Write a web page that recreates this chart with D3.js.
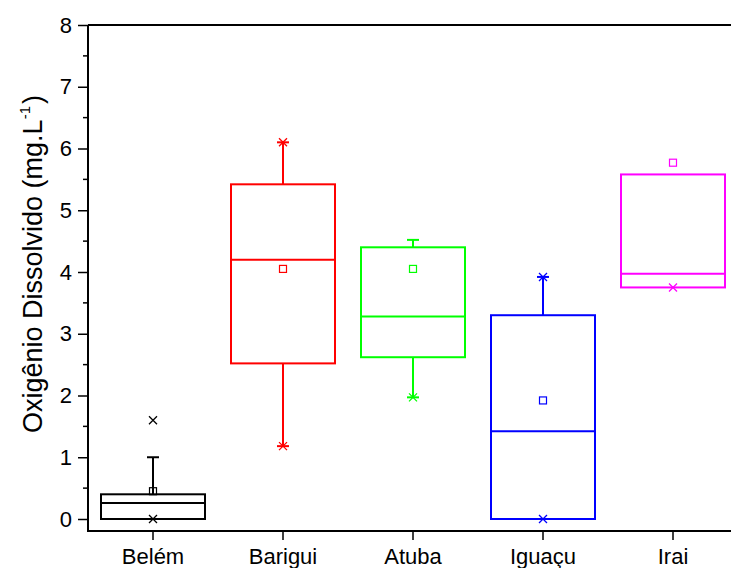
<!DOCTYPE html>
<html>
<head>
<meta charset="utf-8">
<script src="https://cdn.jsdelivr.net/npm/d3@7"></script>
<style>
  html, body { margin: 0; padding: 0; background: #fff; }
  svg { display: block; font-family: "Liberation Sans", Arial, sans-serif; }
</style>
</head>
<body>
<svg id="chart" width="731" height="568"></svg>
<script>
// Dissolved oxygen per river (mg/L)
const categories = ["Belém", "Barigui", "Atuba", "Iguaçu", "Irai"];
const colors     = ["#000000", "#ff0000", "#00ff00", "#0000ff", "#ff00ff"];
const q1         = [0.00, 2.52, 2.62, 0.00, 3.75];
const medians    = [0.26, 4.20, 3.28, 1.42, 3.97];
const q3         = [0.40, 5.42, 4.40, 3.30, 5.58];
const whiskerLow = [0.00, 1.18, 1.97, 0.00, 3.75];
const whiskerHigh= [1.00, 6.10, 4.52, 3.92, 5.58];
const means      = [0.45, 4.05, 4.05, 1.92, 5.77];
const minMarks   = [0.00, 1.18, 1.97, 0.00, 3.75];
const maxMarks   = [1.60, 6.10, null, 3.92, null];
const yTicks     = [0, 1, 2, 3, 4, 5, 6, 7, 8];

(function draw() {
  const svg = d3.select("#chart");
  const plotLeft = 88, plotTop = 25, bottomAxisY = 531;

  const x = d3.scaleBand().domain(categories).range([plotLeft, plotLeft + 130 * categories.length]).padding(0);
  const y = d3.scaleLinear().domain([0, 8]).range([519, plotTop]);
  const boxW = x.bandwidth() * 0.8;
  const cx = c => x(c) + x.bandwidth() / 2;

  // Y axis ticks and labels
  const yAxis = d3.axisLeft(y).tickValues(yTicks).tickSize(10).tickPadding(6).tickFormat(d3.format("d"));
  const gy = svg.append("g").attr("transform", `translate(${plotLeft},0)`).call(yAxis);
  gy.select(".domain").remove();
  gy.selectAll(".tick line").attr("stroke", "#000").attr("stroke-width", 1.5);
  gy.selectAll(".tick text").attr("font-size", 22).attr("fill", "#000");

  // minor y ticks
  const minor = d3.range(0.5, 8, 1);
  svg.append("g").selectAll("line").data(minor).join("line")
    .attr("x1", plotLeft - 5).attr("x2", plotLeft)
    .attr("y1", d => y(d)).attr("y2", d => y(d))
    .attr("stroke", "#000").attr("stroke-width", 1.5);

  // frame lines
  svg.append("line").attr("x1", plotLeft).attr("x2", plotLeft).attr("y1", plotTop).attr("y2", bottomAxisY)
    .attr("stroke", "#000").attr("stroke-width", 2);
  svg.append("line").attr("x1", plotLeft - 1).attr("x2", 731).attr("y1", bottomAxisY).attr("y2", bottomAxisY)
    .attr("stroke", "#000").attr("stroke-width", 2);
  svg.append("line").attr("x1", plotLeft).attr("x2", 731).attr("y1", plotTop).attr("y2", plotTop)
    .attr("stroke", "#000").attr("stroke-width", 2);

  // X axis
  const xAxis = d3.axisBottom(x).tickSize(9).tickPadding(8);
  const gx = svg.append("g").attr("transform", `translate(0,${bottomAxisY})`).call(xAxis);
  gx.select(".domain").remove();
  gx.selectAll(".tick line").attr("stroke", "#000").attr("stroke-width", 1.5);
  gx.selectAll(".tick text").attr("font-size", 22).attr("fill", "#000");

  // Y title
  const title = svg.append("text")
    .attr("transform", `translate(42,264) rotate(-90)`)
    .attr("text-anchor", "middle").attr("font-size", 27).attr("fill", "#000");
  title.append("tspan").text("Oxigênio Dissolvido (mg.L");
  title.append("tspan").attr("font-size", 15).attr("dy", -12).text("-1");
  title.append("tspan").attr("dy", 12).attr("dx", 2).text(")");

  // Boxes
  const rows = categories.map((c, i) => ({
    c, color: colors[i], q1: q1[i], med: medians[i], q3: q3[i],
    lo: whiskerLow[i], hi: whiskerHigh[i], mean: means[i],
    mn: minMarks[i], mx: maxMarks[i]
  }));

  const g = svg.append("g").attr("fill", "none").attr("stroke-width", 2);
  rows.forEach(r => {
    const xc = cx(r.c);
    const s = g.append("g").attr("stroke", r.color);
    if (r.hi > r.q3) {
      s.append("line").attr("x1", xc).attr("x2", xc).attr("y1", y(r.q3)).attr("y2", y(r.hi));
      s.append("line").attr("x1", xc - 6).attr("x2", xc + 6).attr("y1", y(r.hi)).attr("y2", y(r.hi));
    }
    if (r.lo < r.q1) {
      s.append("line").attr("x1", xc).attr("x2", xc).attr("y1", y(r.q1)).attr("y2", y(r.lo));
      s.append("line").attr("x1", xc - 6).attr("x2", xc + 6).attr("y1", y(r.lo)).attr("y2", y(r.lo));
    }
    s.append("rect").attr("x", xc - boxW / 2).attr("width", boxW)
      .attr("y", y(r.q3)).attr("height", y(r.q1) - y(r.q3));
    s.append("line").attr("x1", xc - boxW / 2).attr("x2", xc + boxW / 2)
      .attr("y1", y(r.med)).attr("y2", y(r.med));
    // mean
    s.append("rect").attr("x", xc - 3.5).attr("y", y(r.mean) - 3.5).attr("width", 7).attr("height", 7)
      .attr("stroke-width", 1.2);
    // min / max markers
    [r.mn, r.mx].filter(v => v !== null).forEach(v => {
      const yy = y(v), k = 4;
      s.append("path").attr("d", `M${xc - k},${yy - k}L${xc + k},${yy + k}M${xc - k},${yy + k}L${xc + k},${yy - k}`)
        .attr("stroke-width", 1.3);
    });
  });
})();
</script>
</body>
</html>
